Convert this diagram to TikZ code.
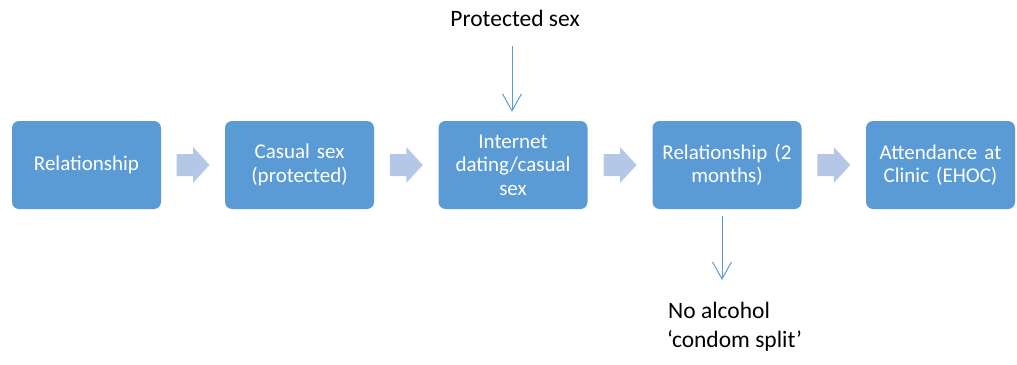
\documentclass[tikz,border=0pt]{standalone}
\usepackage{fontspec}
\setmainfont{Carlito}
\usetikzlibrary{arrows.meta,calc}
\definecolor{boxblue}{HTML}{5B9BD5}
\definecolor{paleblue}{HTML}{B4C7E7}
\tikzset{
  stepbox/.style={fill=boxblue, rounded corners=7pt, minimum width=149pt,
    minimum height=88pt, text width=140pt, align=center, text=white,
    inner sep=0pt, font=\fontsize{21}{23.5}\selectfont},
  note/.style={inner sep=0pt, font=\fontsize{23.5}{28}\selectfont},
  feed/.style={draw=boxblue, line width=1pt,
    -{Straight Barb[length=17pt,width=19pt,line width=1pt]}},
  blockarrow/.pic={
    \fill[paleblue] (-16.5,-11) -- (0,-11) -- (0,-18) -- (16.5,0)
      -- (0,18) -- (0,11) -- (-16.5,11) -- cycle;}
}
\begin{document}
\begin{tikzpicture}[x=1pt,y=-1pt]
  \useasboundingbox (0,0) rectangle (1017,364);

  % main sequence of stages
  \node[stepbox] (b1) at (86.5,165) {Relationship};
  \node[stepbox] (b2) at (299.5,165) {Casual sex\\(protected)};
  \node[stepbox] (b3) at (513,165) {Internet\\dating/casual\\sex};
  \node[stepbox] (b4) at (727,165) {Relationship (2\\months)};
  \node[stepbox] (b5) at (940.5,165) {Attendance at\\Clinic (EHOC)};

  % block arrows between stages
  \path ($(b1.east)!0.5!(b2.west)$) pic {blockarrow};
  \path ($(b2.east)!0.5!(b3.west)$) pic {blockarrow};
  \path ($(b3.east)!0.5!(b4.west)$) pic {blockarrow};
  \path ($(b4.east)!0.5!(b5.west)$) pic {blockarrow};

  % influence from above
  \node[note, anchor=base] (prot) at (515,26) {Protected sex};
  \coordinate (topstart) at (512,46);
  \draw[feed, shorten >=9pt] (topstart) -- (topstart |- b3.north);

  % outcome below
  \node[note, anchor=base west] (noalc) at (668,318) {No alcohol};
  \node[note, anchor=base west] (split) at (667,347) {‘condom split’};
  \coordinate (botend) at (722,280);
  \draw[feed, shorten <=7pt] (botend |- b4.south) -- (botend);
\end{tikzpicture}
\end{document}
